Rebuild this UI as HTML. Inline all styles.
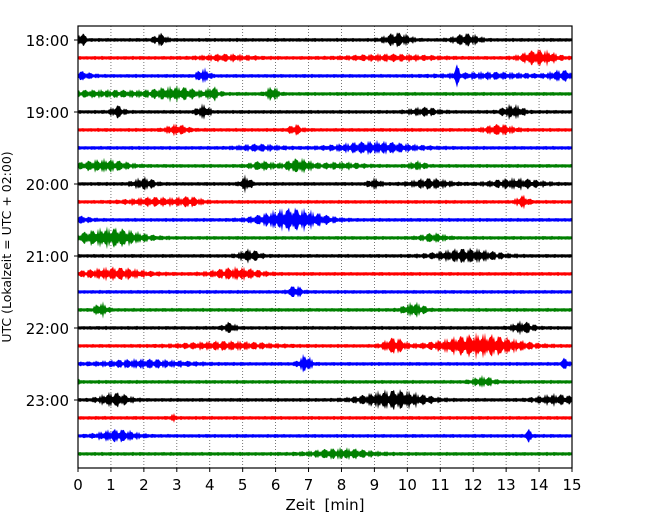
<!DOCTYPE html>
<html><head><meta charset="utf-8"><style>
body{margin:0;background:#fff;}
svg{display:block;font-family:"DejaVu Sans","Liberation Sans",sans-serif;}
</style></head><body>
<svg id="chart" width="650" height="520" viewBox="0 0 650 520">
<g id="grid"></g>
<g id="traces"></g>
<rect x="78" y="26" width="494" height="442" fill="none" stroke="#000" stroke-width="1.2"/>
<g id="xticks"></g>
<g id="yticks"></g>
<text x="325" y="510" text-anchor="middle" font-size="15" xml:space="preserve">Zeit  [min]</text>
<text transform="translate(11,247) rotate(-90)" text-anchor="middle" font-size="12.5">UTC (Lokalzeit = UTC + 02:00)</text>
</svg>
<script>
const xTicks=[0,1,2,3,4,5,6,7,8,9,10,11,12,13,14,15];
const hourLabels=["18:00","19:00","20:00","21:00","22:00","23:00"];
const colors=["#000","#f00","#00f","#008000"];
// bursts per trace: [center minute, half-amplitude px, width minutes]
const tr0=[[0.1,7,0.1],[2.5,6,0.15],[9.7,7,0.3],[11.8,6,0.3]];
const tr1=[[4.5,3,0.6],[9.5,3,1],[14.0,8,0.4]];
const tr2=[[0,4,0.3],[3.8,7,0.15],[11.5,10,0.06],[12.5,3,1],[14.7,5,0.3]];
const tr3=[[0.8,3,1.5],[3,6,0.5],[4.1,6,0.15],[5.9,7,0.15]];
const tr4=[[1.2,6,0.15],[3.8,7,0.15],[10.5,4,0.35],[13.2,7,0.25]];
const tr5=[[3,5,0.25],[6.6,5,0.15],[12.8,5,0.35]];
const tr6=[[5.5,3,0.5],[9,6,0.9]];
const tr7=[[0.8,6,0.55],[5.6,4,0.3],[6.7,7,0.3],[8,3,0.5],[10.3,4,0.2]];
const tr8=[[2,6,0.25],[5.1,8,0.12],[9,5,0.15],[10.7,5,0.45],[13.3,5,0.6]];
const tr9=[[2.3,4,0.6],[3.4,4,0.3],[13.5,6,0.15]];
const tr10=[[0,3,0.3],[6.5,12,0.7]];
const tr11=[[1,10,0.7],[10.8,4,0.3]];
const tr12=[[5.2,6,0.25],[11.8,7,0.7]];
const tr13=[[1.1,6,0.7],[4.8,6,0.55]];
const tr14=[[6.6,6,0.15]];
const tr15=[[0.7,7,0.15],[10.2,7,0.25]];
const tr16=[[4.6,5,0.15],[13.5,6,0.25]];
const tr17=[[4.5,4,1],[9.6,8,0.25],[12.2,12,0.9]];
const tr18=[[2,4,1],[6.9,9,0.15],[14.8,6,0.08]];
const tr19=[[0,5,0.05],[12.3,5,0.25]];
const tr20=[[1.1,7,0.35],[9.6,10,0.7],[14.5,5,0.45]];
const tr21=[[2.9,3,0.08]];
const tr22=[[1.2,6,0.45],[13.7,6,0.08]];
const tr23=[[8,5,0.7]];
const traces=[tr0,tr1,tr2,tr3,tr4,tr5,tr6,tr7,tr8,tr9,tr10,tr11,tr12,tr13,tr14,tr15,tr16,tr17,tr18,tr19,tr20,tr21,tr22,tr23];

const NS="http://www.w3.org/2000/svg";
const X0=78,X1=572,XMAX=15;
const xs=m=>X0+(X1-X0)*m/XMAX;
const ys=i=>40+18*i;
const grid=document.getElementById('grid'),gx=document.getElementById('xticks'),gy=document.getElementById('yticks'),gt=document.getElementById('traces');
function el(t,a,p){const e=document.createElementNS(NS,t);for(const k in a)e.setAttribute(k,a[k]);p.appendChild(e);return e;}
xTicks.forEach(t=>{
  const x=xs(t);
  if(t>0&&t<15){const g=el('line',{x1:x,x2:x,y1:26,y2:468,stroke:'#555','stroke-width':0.8,'stroke-dasharray':'1,2'},grid);
  
  }
  const tk=el('line',{x1:x,x2:x,y1:468,y2:472,stroke:'#000'},gx);
  
  
  const tl=el('text',{x:x,y:490,'text-anchor':'middle','font-size':15},gx);
  tl.textContent=t;
  
  
});
hourLabels.forEach((h,k)=>{
  const y=ys(k*4);
  const tk=el('line',{x1:74,x2:78,y1:y,y2:y,stroke:'#000'},gy);
  
  
  const tl=el('text',{x:69,y:y+6,'text-anchor':'end','font-size':15},gy);
  tl.textContent=h;
  
  
});
traces.forEach((b,i)=>{
  const y0=ys(i),top=[],bot=[];
  for(let px=X0;px<=X1;px+=1){
    const m=(px-X0)/(X1-X0)*XMAX;
    let a=2.2;
    b.forEach(([c,amp,w])=>{const d=(m-c)/w;a+=amp*Math.exp(-d*d/2);});
    const j=0.3+0.7*Math.abs(Math.sin(px*1.73+i)*Math.cos(px*0.41+i*2));
    const h=Math.max(1.6,a*j);
    top.push(px+','+(y0-h).toFixed(1));
    bot.unshift(px+','+(y0+h*(0.7+0.3*Math.abs(Math.sin(px*2.3)))).toFixed(1));
  }
  const p=el('polygon',{points:top.concat(bot).join(' '),fill:colors[i%4]},gt);
  
  
});
</script>
</body></html>
